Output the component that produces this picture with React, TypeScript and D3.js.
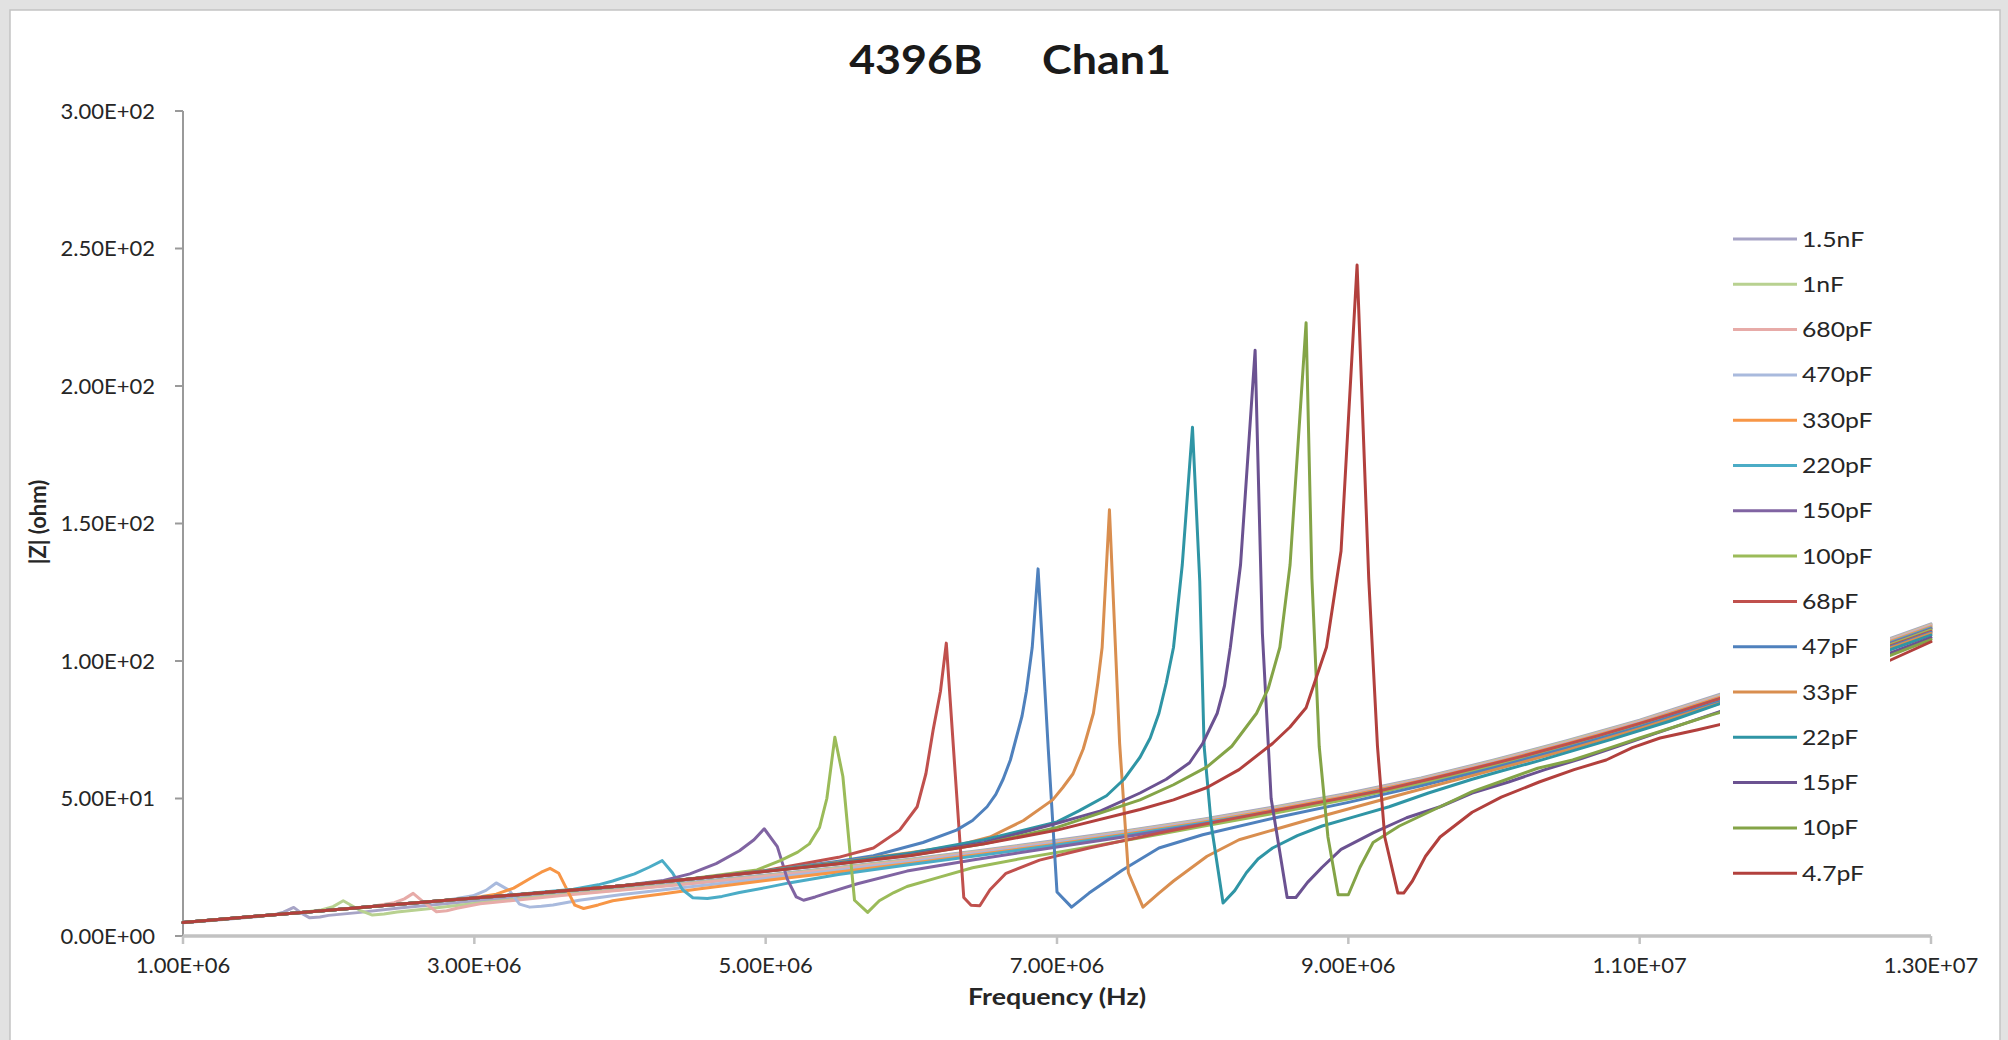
import React from 'react';
import * as d3 from 'd3';

type Pt = [number, number];

// Frequency in MHz, |Z| in ohm, one array per capacitor value.
const z1p5nF: Pt[] = [[1.0,4.8],[1.3,6.1],[1.5,7.0],[1.62,7.7],[1.69,8.7],[1.76,10.4],[1.81,8.4],[1.87,6.6],[1.94,6.9],[2.0,7.5],[2.2,8.5],[2.5,10.3],[3.0,12.7],[3.5,14.9],[4.0,17.1],[4.5,19.6],[5.0,22.2],[5.5,25.0],[6.0,28.0],[6.5,31.3],[7.0,34.8],[7.5,38.5],[8.0,42.5],[8.5,47.0],[9.0,51.9],[9.5,57.5],[10.0,64.0],[10.5,71.0],[11.0,78.5],[11.5,87.0],[12.0,95.5],[12.5,104.0],[13.0,113.5]];
const z1nF: Pt[] = [[1.0,4.9],[1.5,7.2],[1.8,8.5],[1.95,9.5],[2.03,10.7],[2.1,12.8],[2.16,11.0],[2.22,9.2],[2.3,7.6],[2.38,8.0],[2.47,8.7],[2.7,10.0],[3.0,11.8],[3.5,14.5],[4.0,16.8],[4.5,19.3],[5.0,21.9],[5.5,24.7],[6.0,27.7],[6.5,31.0],[7.0,34.5],[7.5,38.2],[8.0,42.2],[8.5,46.7],[9.0,51.6],[9.5,57.2],[10.0,63.7],[10.5,70.7],[11.0,78.2],[11.5,86.7],[12.0,95.2],[12.5,103.7],[13.0,113.2]];
const z680pF: Pt[] = [[1.0,4.9],[1.5,7.2],[2.0,9.4],[2.3,10.8],[2.45,12.1],[2.52,13.5],[2.58,15.5],[2.65,12.4],[2.74,8.8],[2.81,9.2],[2.88,10.1],[3.04,11.7],[3.3,13.1],[3.6,14.7],[4.0,16.6],[4.5,19.1],[5.0,21.7],[5.5,24.5],[6.0,27.5],[6.5,30.8],[7.0,34.3],[7.5,38.0],[8.0,42.0],[8.5,46.5],[9.0,51.4],[9.5,57.0],[10.0,63.5],[10.5,70.5],[11.0,78.0],[11.5,86.5],[12.0,95.0],[12.5,103.5],[13.0,113.0]];
const z470pF: Pt[] = [[1.0,4.9],[1.5,7.2],[2.0,9.4],[2.5,11.6],[2.8,12.9],[2.99,14.6],[3.08,16.6],[3.15,19.3],[3.24,16.6],[3.31,11.6],[3.38,10.5],[3.46,10.8],[3.54,11.3],[3.72,13.0],[4.0,15.0],[4.5,18.0],[5.0,20.9],[5.5,23.9],[6.0,27.0],[6.5,30.4],[7.0,33.9],[7.5,37.7],[8.0,41.7],[8.5,46.2],[9.0,51.1],[9.5,56.7],[10.0,63.2],[10.5,70.2],[11.0,77.7],[11.5,86.2],[12.0,94.7],[12.5,103.2],[13.0,112.7]];
const z330pF: Pt[] = [[1.0,4.9],[1.5,7.2],[2.0,9.4],[2.5,11.6],[3.0,13.9],[3.15,15.2],[3.27,17.4],[3.38,20.8],[3.46,23.2],[3.52,24.6],[3.58,22.8],[3.63,17.5],[3.69,11.2],[3.75,10.0],[3.85,11.3],[3.95,12.8],[4.1,14.0],[4.3,15.4],[4.55,17.2],[5.0,20.2],[5.5,23.3],[6.0,26.5],[6.5,29.9],[7.0,33.5],[7.5,37.3],[8.0,41.4],[8.5,45.9],[9.0,50.9],[9.5,56.5],[10.0,62.9],[10.5,69.9],[11.0,77.4],[11.5,85.9],[12.0,94.4],[12.5,102.9],[13.0,112.4]];
const z220pF: Pt[] = [[1.0,4.9],[1.5,7.2],[2.0,9.4],[2.5,11.6],[3.0,13.8],[3.4,15.6],[3.68,17.0],[3.85,18.6],[3.95,20.0],[4.1,22.6],[4.2,25.0],[4.29,27.4],[4.36,23.0],[4.43,16.8],[4.5,13.9],[4.6,13.6],[4.7,14.4],[4.82,15.8],[5.0,17.6],[5.17,19.4],[5.5,22.4],[5.97,25.8],[6.5,29.5],[7.0,33.1],[7.5,36.9],[8.0,41.0],[8.5,45.5],[9.0,50.5],[9.5,56.1],[10.0,62.5],[10.5,69.5],[11.0,77.0],[11.5,85.5],[12.0,94.0],[12.5,102.5],[13.0,112.0]];
const z150pF: Pt[] = [[1.0,4.9],[1.5,7.2],[2.0,9.4],[2.5,11.6],[3.0,13.8],[3.5,15.9],[4.0,18.2],[4.3,20.2],[4.48,22.6],[4.66,26.3],[4.82,31.0],[4.92,35.0],[4.99,39.0],[5.08,32.5],[5.15,20.5],[5.21,14.2],[5.26,13.0],[5.34,14.2],[5.42,15.6],[5.63,19.0],[5.97,23.6],[6.42,27.6],[7.0,32.4],[7.5,36.4],[8.0,40.6],[8.5,45.2],[9.0,50.2],[9.5,55.8],[10.0,62.2],[10.5,69.2],[11.0,76.7],[11.5,85.2],[12.0,93.7],[12.5,102.2],[13.0,111.7]];
const z100pF: Pt[] = [[1.0,4.9],[1.5,7.2],[2.0,9.4],[2.5,11.6],[3.0,13.8],[3.5,15.9],[4.0,18.2],[4.5,20.9],[4.94,24.0],[5.1,27.4],[5.22,30.5],[5.3,33.5],[5.37,39.5],[5.42,50.0],[5.475,72.3],[5.53,58.0],[5.61,13.0],[5.7,8.6],[5.78,12.8],[5.88,15.8],[5.97,18.0],[6.2,21.5],[6.42,24.8],[6.8,28.6],[7.2,32.2],[7.6,36.0],[8.0,39.9],[8.5,44.7],[9.0,49.8],[9.5,55.4],[10.0,61.8],[10.5,68.8],[11.0,76.3],[11.5,84.8],[12.0,93.3],[12.5,101.8],[13.0,111.3]];
const z68pF: Pt[] = [[1.0,4.9],[1.5,7.2],[2.0,9.4],[2.5,11.6],[3.0,13.8],[3.5,15.9],[4.0,18.2],[4.5,20.8],[5.0,23.8],[5.5,28.6],[5.74,32.0],[5.92,38.5],[6.04,47.0],[6.1,59.0],[6.15,75.0],[6.2,89.0],[6.24,106.5],[6.3,60.0],[6.36,14.0],[6.41,11.2],[6.47,11.0],[6.54,16.8],[6.65,22.8],[6.88,27.6],[7.22,32.0],[7.7,37.4],[8.2,42.6],[8.7,47.6],[9.2,52.6],[9.7,58.8],[10.2,65.4],[10.7,72.6],[11.2,80.4],[11.6,87.2],[12.0,92.8],[12.5,101.3],[13.0,110.8]];
const z47pF: Pt[] = [[1.0,4.9],[1.5,7.2],[2.0,9.4],[2.5,11.6],[3.0,13.8],[3.5,15.9],[4.0,18.2],[4.5,20.8],[5.0,23.6],[5.5,27.2],[5.74,29.2],[6.08,34.0],[6.31,38.5],[6.42,42.0],[6.52,47.0],[6.58,51.5],[6.63,57.0],[6.68,64.0],[6.72,72.0],[6.76,80.0],[6.79,89.0],[6.83,105.0],[6.87,133.5],[6.94,68.0],[7.0,16.0],[7.1,10.5],[7.22,15.6],[7.45,24.0],[7.7,32.0],[8.0,36.8],[8.5,43.0],[9.0,48.6],[9.5,54.6],[10.0,61.2],[10.5,68.4],[11.0,76.0],[11.5,84.4],[12.0,92.4],[12.5,100.9],[13.0,110.4]];
const z33pF: Pt[] = [[1.0,4.9],[1.5,7.2],[2.0,9.4],[2.5,11.6],[3.0,13.8],[3.5,15.9],[4.0,18.2],[4.5,20.8],[5.0,23.6],[5.5,26.8],[6.0,30.4],[6.31,32.8],[6.54,36.0],[6.77,42.0],[6.97,49.5],[7.04,54.0],[7.11,59.0],[7.18,68.0],[7.25,81.0],[7.28,92.0],[7.31,105.0],[7.36,155.0],[7.43,70.0],[7.49,23.0],[7.59,10.5],[7.7,15.6],[7.8,20.0],[8.03,29.0],[8.25,35.0],[8.71,42.0],[9.4,52.0],[10.0,60.4],[10.5,67.6],[11.0,75.4],[11.5,83.8],[12.0,92.0],[12.5,100.5],[13.0,110.0]];
const z22pF: Pt[] = [[1.0,4.9],[1.5,7.2],[2.0,9.4],[2.5,11.6],[3.0,13.8],[3.5,15.9],[4.0,18.2],[4.5,20.8],[5.0,23.6],[5.5,26.6],[6.0,30.2],[6.5,35.0],[7.0,41.5],[7.15,45.5],[7.34,51.0],[7.46,57.0],[7.57,65.0],[7.64,72.0],[7.7,81.0],[7.75,92.0],[7.8,105.0],[7.86,135.0],[7.93,185.0],[7.98,129.0],[8.01,69.0],[8.06,40.0],[8.14,12.0],[8.22,16.5],[8.3,23.0],[8.38,28.0],[8.48,32.0],[8.65,36.5],[8.82,40.0],[9.05,43.5],[9.28,47.0],[9.55,52.0],[9.85,57.0],[10.05,60.0],[10.3,63.6],[10.8,71.4],[11.2,78.0],[11.6,85.4],[12.0,91.4],[12.5,99.9],[13.0,109.4]];
const z15pF: Pt[] = [[1.0,4.9],[1.5,7.2],[2.0,9.4],[2.5,11.6],[3.0,13.8],[3.5,15.9],[4.0,18.2],[4.5,20.8],[5.0,23.5],[5.5,26.4],[6.0,29.6],[6.5,34.0],[7.0,41.0],[7.3,45.5],[7.57,52.0],[7.75,57.0],[7.91,63.0],[8.0,70.0],[8.1,81.0],[8.15,91.0],[8.19,105.0],[8.26,135.0],[8.36,213.0],[8.41,110.0],[8.47,50.0],[8.58,14.0],[8.64,14.0],[8.72,19.5],[8.82,25.0],[8.95,31.5],[9.17,37.5],[9.4,43.0],[9.63,47.0],[9.85,52.0],[10.1,56.0],[10.35,60.5],[10.6,64.5],[10.85,69.0],[11.1,73.5],[11.6,82.5],[12.0,89.5],[12.5,98.5],[13.0,108.5]];
const z10pF: Pt[] = [[1.0,4.9],[1.5,7.2],[2.0,9.4],[2.5,11.6],[3.0,13.8],[3.5,15.9],[4.0,18.2],[4.5,20.8],[5.0,23.5],[5.5,26.3],[6.0,29.4],[6.5,33.5],[7.0,39.5],[7.57,49.5],[7.8,55.0],[8.03,61.5],[8.2,69.0],[8.37,81.0],[8.45,90.0],[8.53,105.0],[8.6,135.0],[8.71,223.0],[8.75,130.0],[8.8,69.0],[8.86,36.0],[8.93,15.0],[9.0,15.0],[9.08,25.0],[9.17,34.0],[9.35,40.0],[9.63,47.0],[9.85,52.5],[10.09,57.0],[10.3,61.0],[10.54,64.0],[10.8,68.5],[11.0,72.0],[11.5,80.5],[12.0,88.0],[12.5,97.5],[13.0,107.8]];
const z4p7pF: Pt[] = [[1.0,4.9],[1.5,7.2],[2.0,9.4],[2.5,11.6],[3.0,13.8],[3.5,15.9],[4.0,18.2],[4.5,20.8],[5.0,23.5],[5.5,26.3],[6.0,29.3],[6.5,33.5],[7.0,38.5],[7.57,46.0],[7.8,49.5],[8.03,54.0],[8.25,60.5],[8.48,70.0],[8.6,76.0],[8.71,83.0],[8.85,105.0],[8.95,140.0],[9.06,244.0],[9.14,130.0],[9.2,69.0],[9.25,36.0],[9.34,15.6],[9.38,15.6],[9.44,20.0],[9.53,29.0],[9.63,36.0],[9.85,45.0],[10.05,50.5],[10.31,56.0],[10.55,60.5],[10.77,64.0],[10.95,68.5],[11.14,72.0],[11.4,75.0],[11.6,77.5],[12.0,84.0],[12.5,95.0],[13.0,107.0]];

const seriesLabels = ['1.5nF', '1nF', '680pF', '470pF', '330pF', '220pF', '150pF', '100pF', '68pF', '47pF', '33pF', '22pF', '15pF', '10pF', '4.7pF'];
const seriesValues: Pt[][] = [z1p5nF, z1nF, z680pF, z470pF, z330pF, z220pF, z150pF, z100pF, z68pF, z47pF, z33pF, z22pF, z15pF, z10pF, z4p7pF];
const seriesColors = ['#A7A4C6', '#B8D190', '#E7ABA8', '#A9BADD', '#F79646', '#4BACC6', '#8064A2', '#9BBB59', '#C0504D', '#4F81BD', '#D98E4F', '#2F95A5', '#6B5291', '#84A447', '#B2403D'];

const xTicks = [1e6, 3e6, 5e6, 7e6, 9e6, 1.1e7, 1.3e7];
const yTicks = [0, 50, 100, 150, 200, 250, 300];

const MHZ = 1e6;
const FONT = 'Lato, "Open Sans", sans-serif';

// Excel-style scientific label: 1.00E+06
function sci(v: number): string {
  const [m, e] = v.toExponential(2).split('e');
  const sign = e[0] === '-' ? '-' : '+';
  const digits = e.replace(/[+-]/, '').padStart(2, '0');
  return `${m}E${sign}${digits}`;
}

function SText({ x, y, sx = 1, children, ...rest }: any) {
  return (
    <text transform={`translate(${x},${y}) scale(${sx},1)`} {...rest}>
      {children}
    </text>
  );
}

export default function App() {
  const W = 2008;
  const H = 1040;
  const plot = { left: 183, right: 1931, top: 111, bottom: 936 };

  const x = d3.scaleLinear().domain([1e6, 1.3e7]).range([plot.left, plot.right]);
  const y = d3.scaleLinear().domain([0, 300]).range([plot.bottom, plot.top]);
  const line = d3
    .line<Pt>()
    .x((d) => x(d[0] * MHZ))
    .y((d) => y(d[1]));

  const legend = { x: 1720, y: 215, w: 170, h: 685, first: 239, step: 45.3 };

  return (
    <svg
      width={W}
      height={H}
      viewBox={`0 0 ${W} ${H}`}
      style={{ position: 'absolute', left: 0, top: 0, display: 'block' }}
      fontFamily={FONT}
    >
      <rect x={0} y={0} width={W} height={H} fill="#e2e2e2" />
      <rect x={10} y={10} width={1990} height={1040} fill="#ffffff" stroke="#c4c4c4" strokeWidth={1.5} />

      {/* axes */}
      <line x1={plot.left} x2={plot.left} y1={plot.top} y2={plot.bottom} stroke="#9a9a9a" strokeWidth={2} />
      {yTicks.map((t) => (
        <g key={`yt${t}`}>
          <line x1={plot.left - 8} x2={plot.left} y1={y(t)} y2={y(t)} stroke="#9a9a9a" strokeWidth={2} />
          <text x={155} y={y(t)} dy="0.36em" textAnchor="end" fontSize={22} fill="#262626">
            {sci(t)}
          </text>
        </g>
      ))}
      <line x1={plot.left} x2={plot.right} y1={plot.bottom} y2={plot.bottom} stroke="#c2c2c2" strokeWidth={3.5} />
      {xTicks.map((t) => (
        <g key={`xt${t}`}>
          <line x1={x(t)} x2={x(t)} y1={plot.bottom} y2={plot.bottom + 8} stroke="#c2c2c2" strokeWidth={2.5} />
          <text x={x(t)} y={973} textAnchor="middle" fontSize={22} fill="#262626">
            {sci(t)}
          </text>
        </g>
      ))}

      {/* impedance curves */}
      <g fill="none" strokeWidth={3} strokeLinejoin="round" strokeLinecap="round">
        {seriesValues.map((s, i) => (
          <path key={seriesLabels[i]} d={line(s) || ''} stroke={seriesColors[i]} />
        ))}
      </g>

      {/* legend */}
      <rect x={legend.x} y={legend.y} width={legend.w} height={legend.h} fill="#ffffff" />
      {seriesLabels.map((name, i) => {
        const ly = legend.first + i * legend.step;
        return (
          <g key={`lg${name}`}>
            <line x1={1733} x2={1797} y1={ly} y2={ly} stroke={seriesColors[i]} strokeWidth={3} />
            <SText x={1802} y={ly + 7.5} sx={1.18} fontSize={21} fill="#262626">
              {name}
            </SText>
          </g>
        );
      })}

      {/* titles */}
      <SText x={1010} y={74} sx={1.12} textAnchor="middle" fontSize={40} fontWeight={700} fill="#1a1a1a" style={{ whiteSpace: 'pre', wordSpacing: '8px' }}>
        {'4396B   Chan1'}
      </SText>
      <SText x={1057} y={1005} sx={1.22} textAnchor="middle" fontSize={22} fontWeight={700} fill="#262626">
        Frequency (Hz)
      </SText>
      <text transform="translate(46,522) rotate(-90)" textAnchor="middle" fontSize={22} fontWeight={700} fill="#262626">
        |Z| (ohm)
      </text>
    </svg>
  );
}
